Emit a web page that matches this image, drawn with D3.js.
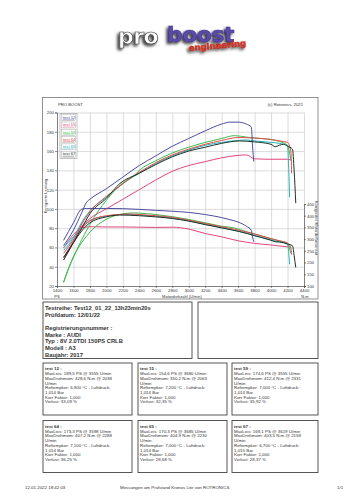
<!DOCTYPE html>
<html lang="de">
<head>
<meta charset="UTF-8">
<title>Pro Boost Leistungsmessung</title>
<script src="https://d3js.org/d3.v7.min.js"></script>
<style>
    body { margin: 0; background: #fff; }
    svg { display: block; font-family: "Liberation Sans", Arial, sans-serif; }
    .grid line { stroke: #c4c4c4; stroke-width: 0.6; }
    .grid path { display: none; }
    .axis text { font-size: 4.3px; fill: #333; }
    .axis path, .axis line { stroke: #444; stroke-width: 0.6; }
    .info { font-size: 4.4px; fill: #333; }
    .head { font-size: 5.8px; font-weight: bold; fill: #333; }
</style>
</head>
<body>
<script>
// ---- data read from the sheet ----
const tests = ["test 12", "test 15", "test 59", "test 64", "test 65", "test 67"];
const colors = ["#4c4ca0", "#e2467e", "#3fba4f", "#e24a4a", "#22b4b8", "#1c3328"];

const rpm12 = [1480, 1600, 1700, 1760, 1800, 2000, 2200, 2400, 2600, 2800, 3000, 3200, 3400, 3500, 3600, 3700, 3760, 3775, 3790];
const ps12  = [62, 78, 96, 107, 110, 121, 133, 145, 155, 165, 173, 181, 188, 190, 190, 188, 185, 165, 149];
const nm12  = [295, 370, 428, 431, 431, 431, 430, 427, 423, 419, 414, 405, 392, 383, 373, 355, 338, 310, 289];

const rpm15 = [1480, 1600, 1700, 1800, 2000, 2200, 2400, 2600, 2800, 3000, 3200, 3400, 3600, 3700, 3800, 4000, 4200, 4230];
const ps15  = [54, 68, 82, 90, 100, 110, 120, 130, 139, 145, 149, 153, 155.5, 156, 152, 151.5, 151.5, 151];
const nm15  = [262, 320, 348, 353, 352, 352, 351, 350, 351, 343, 324, 310, 293, 287, 282, 275, 267, 266];

const rpm59 = [1480, 1550, 1600, 1700, 1800, 2000, 2200, 2330, 2400, 2600, 2800, 3000, 3200, 3400, 3555, 3700, 3800, 4000, 4100, 4200, 4220, 4240];
const ps59  = [24, 40, 50, 68, 84, 109, 127, 134, 140, 150, 158, 164, 169, 173, 176, 174.5, 173.5, 172, 170, 166, 160, 150];
const nm59  = [115, 185, 225, 285, 330, 385, 408, 412, 411, 405, 396, 384, 370, 355, 348, 332, 322, 302, 293, 280, 265, 240];

const rpm64 = [1480, 1600, 1700, 1800, 2000, 2200, 2290, 2400, 2600, 2800, 3000, 3200, 3400, 3600, 3800, 4000, 4100, 4200, 4240, 4250];
const ps64  = [47, 66, 84, 97, 113, 126, 132, 138, 148, 156, 162, 167, 171, 174, 173.5, 172, 170.5, 169, 160, 137];
const nm64  = [222, 290, 345, 378, 400, 406, 407, 405, 400, 393, 381, 367, 353, 339, 322, 302, 293, 284, 262, 234];

const rpm65 = [1480, 1600, 1700, 1800, 2000, 2230, 2400, 2600, 2800, 3000, 3200, 3400, 3600, 3700, 3800, 4000, 4100, 4200, 4215, 4225];
const ps65  = [57, 70, 86, 98, 112, 128, 137, 147, 155, 161, 166, 169, 171, 171.5, 170.5, 169, 168, 166, 140, 112];
const nm65  = [265, 310, 350, 380, 398, 405, 403, 398, 390, 378, 364, 349, 334, 326, 315, 297, 288, 279, 240, 193];

const rpm67 = [1480, 1600, 1700, 1800, 2000, 2160, 2400, 2600, 2800, 3000, 3200, 3400, 3620, 3800, 4000, 4050, 4100, 4150, 4200, 4260, 4280, 4300];
const ps67  = [47, 65, 80, 95, 111, 126, 137, 146, 154, 160, 164, 168, 170.5, 169.5, 167, 164.5, 166, 167, 165, 162, 140, 106];
const nm67  = [222, 285, 335, 370, 395, 403, 400, 395, 388, 377, 362, 348, 332, 315, 295, 289, 288, 285, 279, 272, 230, 179];

const rpmTicks = d3.range(1400, 4401, 200);
const psTicks = d3.range(20, 201, 20);
const nmTicks = d3.range(100, 451, 50);

const maxLeis = ["189,5 PS @ 3555", "154,6 PS @ 3680", "174,6 PS @ 3555", "173,3 PS @ 3598", "170,3 PS @ 3685", "169,1 PS @ 3619"];
const maxDreh = ["428,6 N.m @ 2038", "350,2 N.m @ 2063", "412,4 N.m @ 2331", "407,2 N.m @ 2288", "404,9 N.m @ 2230", "403,5 N.m @ 2158"];
const refTemp = ["6,900", "7,200", "7,000", "7,100", "7,000", "6,700"];
const luftdruck = ["1,014", "1,014", "1,014", "1,014", "1,014", "1,015"];
const verlust = ["33,09", "32,35", "35,92", "36,25", "28,68", "28,37"];

const vehicle = [
    "Testreihe: Test12_01_22_13h23min20s",
    "Prüfdatum: 12/01/22",
    "",
    "Registrierungsnummer  :",
    "Marke  : AUDI",
    "Typ  : 8V 2.0TDI 150PS CRLB",
    "Modell  : A3",
    "Baujahr: 2017"
];

const runs = [
    {rpm: rpm12, ps: ps12, nm: nm12},
    {rpm: rpm15, ps: ps15, nm: nm15},
    {rpm: rpm59, ps: ps59, nm: nm59},
    {rpm: rpm64, ps: ps64, nm: nm64},
    {rpm: rpm65, ps: ps65, nm: nm65},
    {rpm: rpm67, ps: ps67, nm: nm67}
];

// ---- page ----
const W = 353, H = 500;
const svg = d3.select("body").append("svg").attr("width", W).attr("height", H);
svg.append("rect").attr("width", W).attr("height", H).attr("fill", "#fff");

// logo
const defs = svg.append("defs");
const sh = defs.append("filter").attr("id", "shadow").attr("x", "-20%").attr("y", "-40%").attr("width", "140%").attr("height", "180%");
sh.append("feDropShadow").attr("dx", -1.8).attr("dy", 1.8).attr("stdDeviation", 1.8).attr("flood-color", "#111").attr("flood-opacity", 0.9);

const logo = svg.append("g").attr("filter", "url(#shadow)")
    .style("font-family", "'DejaVu Sans', sans-serif").style("font-weight", "bold");
logo.append("text").attr("x", 118).attr("y", 44).attr("font-size", 22)
    .attr("fill", "#fff").attr("stroke", "#444").attr("stroke-width", 0.7)
    .attr("letter-spacing", -0.5).text("pro");
logo.append("text").attr("x", 167).attr("y", 42).attr("font-size", 22)
    .attr("fill", "#5a4bab").attr("stroke", "#3a2f80").attr("stroke-width", 0.5)
    .attr("letter-spacing", -0.5).text("boost");
logo.append("text").attr("transform", "translate(189,51) rotate(-5)").attr("font-size", 8.5)
    .attr("fill", "#e8331f").attr("stroke", "#a01a10").attr("stroke-width", 0.3)
    .text("engineering");

// chart frame
svg.append("rect").attr("x", 42.5).attr("y", 97.5).attr("width", 275.5).attr("height", 201.5)
    .attr("fill", "none").attr("stroke", "#777").attr("stroke-width", 0.8);
svg.append("text").attr("class", "info").attr("x", 58).attr("y", 105.5).style("font-size", "4.2px").text("PRO BOOST");
svg.append("text").attr("class", "info").attr("x", 303).attr("y", 105.5).attr("text-anchor", "end")
    .style("font-size", "4.2px").text("(c) Rotronics, 2021");

// scales
const x = d3.scaleLinear().domain([1400, 4400]).range([57, 304]);
const yPs = d3.scaleLinear().domain([20, 200]).range([286, 112.5]);
const yNm = d3.scaleLinear().domain([100, 450]).range([286, 204]);

// grid
svg.append("g").attr("class", "grid").attr("transform", "translate(0,286)")
    .call(d3.axisBottom(x).tickValues(rpmTicks).tickSize(-173.5).tickFormat(""));
svg.append("g").attr("class", "grid").attr("transform", "translate(57,0)")
    .call(d3.axisLeft(yPs).tickValues(psTicks).tickSize(-247).tickFormat(""));

// axes
svg.append("g").attr("class", "axis").attr("transform", "translate(57,0)")
    .call(d3.axisLeft(yPs).tickValues(psTicks).tickSize(2).tickPadding(1).tickFormat(d3.format("d")));
svg.append("g").attr("class", "axis").attr("transform", "translate(0,286)")
    .call(d3.axisBottom(x).tickValues(rpmTicks).tickSize(2).tickPadding(1).tickFormat(d3.format("d")));
svg.append("g").attr("class", "axis").attr("transform", "translate(304,0)")
    .call(d3.axisRight(yNm).tickValues(nmTicks).tickSize(2).tickPadding(1).tickFormat(d3.format("d")));

svg.append("text").attr("class", "info").attr("x", 57).attr("y", 298).attr("text-anchor", "middle").style("font-size", "4px").text("PS");
svg.append("text").attr("class", "info").attr("x", 305).attr("y", 298).attr("text-anchor", "middle").style("font-size", "4px").text("N.m");
svg.append("text").attr("class", "info").attr("x", 182).attr("y", 297.5).attr("text-anchor", "middle").style("font-size", "4px").text("Motordrehzahl (U/min)");
svg.append("text").attr("class", "info").attr("transform", "translate(47,196) rotate(-90)")
    .attr("text-anchor", "middle").style("font-size", "4px").text("Korrigierte Leistung");
svg.append("text").attr("class", "info").attr("transform", "translate(315,228) rotate(90)")
    .attr("text-anchor", "middle").style("font-size", "4px").text("Korrigiertes Motordrehmoment");

// curves
const psLine = d3.line().x(d => x(d[0])).y(d => yPs(d[1])).curve(d3.curveMonotoneX);
const nmLine = d3.line().x(d => x(d[0])).y(d => yNm(d[1])).curve(d3.curveMonotoneX);
const drawOrder = [1, 4, 2, 3, 0, 5];
const curves = svg.append("g");
drawOrder.forEach(i => {
    const r = runs[i];
    curves.append("path").attr("d", psLine(r.rpm.map((v, k) => [v, r.ps[k]])))
        .attr("fill", "none").attr("stroke", colors[i]).attr("stroke-width", 1);
    curves.append("path").attr("d", nmLine(r.rpm.map((v, k) => [v, r.nm[k]])))
        .attr("fill", "none").attr("stroke", colors[i]).attr("stroke-width", 1);
});

// legend
const legend = svg.append("g").attr("transform", "translate(60,113.5)");
legend.append("rect").attr("width", 17).attr("height", 45).attr("fill", "#fff").attr("stroke", "#888").attr("stroke-width", 0.5);
tests.forEach((t, i) => {
    const g = legend.append("g").attr("transform", `translate(1.5,${1.2 + i * 7.3})`);
    g.append("rect").attr("width", 14).attr("height", 6).attr("fill", "#fff").attr("stroke", "#999").attr("stroke-width", 0.4);
    g.append("text").attr("x", 1.3).attr("y", 4.3).attr("fill", colors[i]).style("font-size", "4.2px").text(t);
    g.append("line").attr("x1", 1.3).attr("x2", 12.5).attr("y1", 5).attr("y2", 5).attr("stroke", colors[i]).attr("stroke-width", 0.4);
});

// vehicle box
svg.append("rect").attr("x", 43).attr("y", 302).attr("width", 149).attr("height", 56.5)
    .attr("fill", "none").attr("stroke", "#444").attr("stroke-width", 0.9);
svg.append("rect").attr("x", 198).attr("y", 302).attr("width", 120).attr("height", 56.5)
    .attr("fill", "none").attr("stroke", "#444").attr("stroke-width", 0.9);
vehicle.forEach((s, i) => {
    svg.append("text").attr("class", "head").attr("x", 45).attr("y", 309.8 + i * 6.7).text(s);
});

// test boxes
const boxX = [43, 138, 232];
const boxY = [363, 420.5];
tests.forEach((t, i) => {
    const bx = boxX[i % 3], by = boxY[Math.floor(i / 3)];
    svg.append("rect").attr("x", bx).attr("y", by).attr("width", i % 3 === 2 ? 86 : 89).attr("height", 52)
        .attr("fill", "none").attr("stroke", "#444").attr("stroke-width", 0.9);
    const lines = [
        t + " :",
        "MaxLeis: " + maxLeis[i] + " U/min",
        "MaxDrehmom: " + maxDreh[i],
        "U/min",
        "Reftempkor: " + refTemp[i] + " °C - Luftdruck:",
        luftdruck[i] + " Bar",
        "Korr Faktor: 1,000",
        "Verlust: " + verlust[i] + " %"
    ];
    lines.forEach((s, k) => {
        svg.append("text").attr("class", "info").attr("x", bx + 2).attr("y", by + 7.4 + k * 4.72)
            .style("font-weight", k === 0 ? "bold" : "normal").text(s);
    });
});

// footer
svg.append("text").attr("class", "info").attr("x", 25).attr("y", 488.5).text("12.01.2022 18:42:03");
svg.append("text").attr("class", "info").attr("x", 120).attr("y", 488.5).text("Messungen am Prüfstand Kronos Lite von ROTRONICS");
svg.append("text").attr("class", "info").attr("x", 337).attr("y", 488.5).text("1/1");
</script>
</body>
</html>
